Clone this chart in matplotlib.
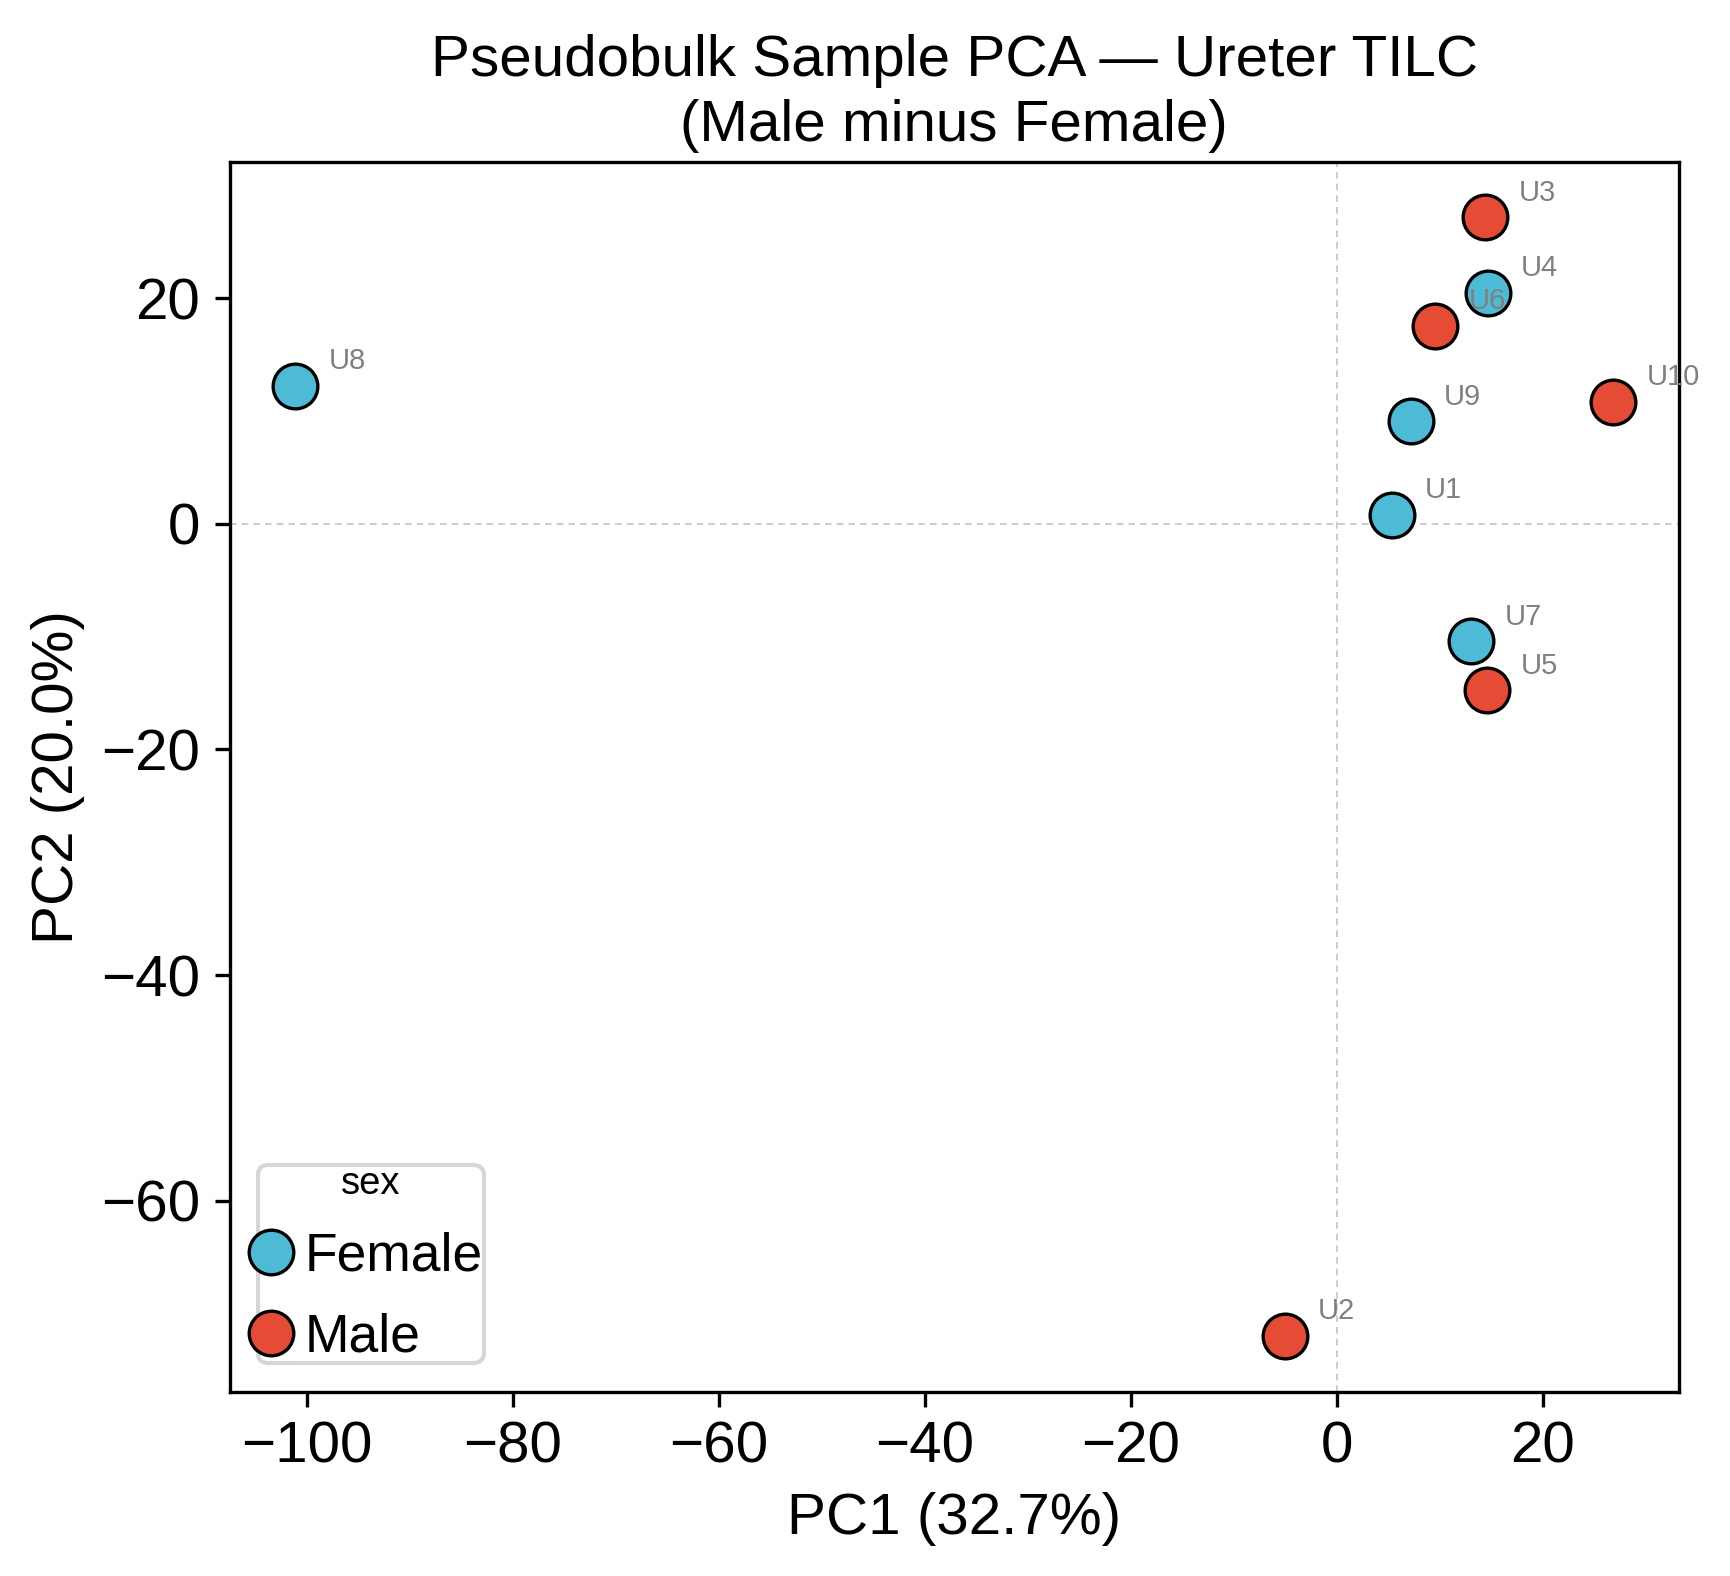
import matplotlib
matplotlib.use("Agg")
import matplotlib.pyplot as plt
from matplotlib.lines import Line2D

plt.rcParams["font.family"] = ["Liberation Sans", "DejaVu Sans"]

# PCA coordinates
samples = ["U1", "U2", "U3", "U4", "U5", "U6", "U7", "U8", "U9", "U10"]
pc1 = [5.34, -5.05, 14.41, 14.66, 14.61, 9.58, 13.08, -101.1, 7.19, 26.83]
pc2 = [0.82, -71.96, 27.15, 20.48, -14.76, 17.55, -10.43, 12.24, 9.07, 10.78]
sex = ["Female", "Male", "Male", "Female", "Male", "Male", "Female", "Female", "Female", "Male"]

palette = {"Female": "#4DBBD5", "Male": "#E64B35"}

fig = plt.figure(figsize=(1730 / 300, 1576 / 300), dpi=300)
ax = fig.add_axes([229.5 / 1730, 1 - 1391.7 / 1576, (1679 - 229.5) / 1730, (1391.7 - 161.5) / 1576])

ax.axhline(0, color="#c4c4c4", lw=0.4, ls=(0, (4, 3)), zorder=0)
ax.axvline(0, color="#c4c4c4", lw=0.4, ls=(0, (4, 3)), zorder=0)

for grp in ["Female", "Male"]:
    xs = [x for x, s in zip(pc1, sex) if s == grp]
    ys = [y for y, s in zip(pc2, sex) if s == grp]
    ax.scatter(xs, ys, s=115, c=palette[grp], edgecolors="black", linewidths=0.8, zorder=3)

for name, x, y in zip(samples, pc1, pc2):
    ax.annotate(name, (x, y), xytext=(8, 4), textcoords="offset points",
                fontsize=7, color="grey", zorder=4)

ax.set_xlabel("PC1 (32.7%)", fontsize=14)
ax.set_ylabel("PC2 (20.0%)", fontsize=14)
ax.set_title("Pseudobulk Sample PCA — Ureter TILC\n(Male minus Female)", fontsize=14,
             linespacing=1.25, pad=5)
ax.tick_params(labelsize=14)

handles = [Line2D([], [], ls="", marker="o", markersize=10.7, markerfacecolor=palette[g],
                  markeredgecolor="black", markeredgewidth=0.8, label=g) for g in ["Female", "Male"]]
leg = ax.legend(handles=handles, title="sex", loc="lower left", fontsize=12.8,
                title_fontsize=9.2, borderpad=0.02, handlelength=0.45, handletextpad=0.41,
                labelspacing=0.57, borderaxespad=0.53)

fig.savefig("out.png", dpi=300)
